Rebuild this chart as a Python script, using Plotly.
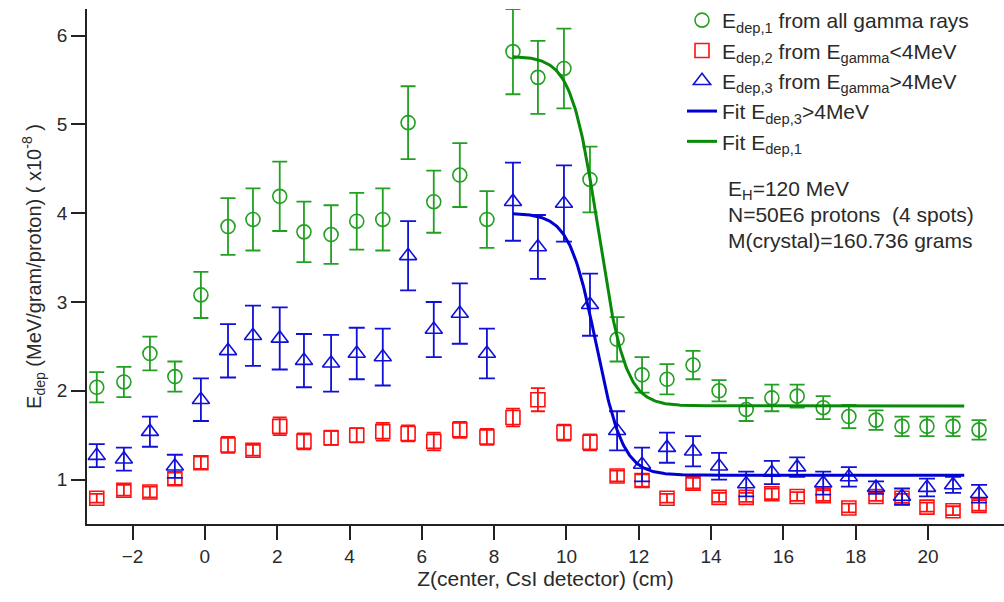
import numpy as np
import plotly.graph_objects as go

# positions (cm)
z = [-2.99, -2.24, -1.52, -0.83, -0.11, 0.64, 1.33, 2.07, 2.74, 3.49, 4.20, 4.92,
     5.62, 6.33, 7.05, 7.80, 8.52, 9.21, 9.93, 10.65, 11.40, 12.09, 12.78, 13.50,
     14.22, 14.97, 15.68, 16.38, 17.10, 17.81, 18.56, 19.28, 19.97, 20.69, 21.41]

e1 = [2.04, 2.10, 2.42, 2.16, 3.08, 3.85, 3.93, 4.19, 3.79, 3.76, 3.91, 3.93,
      5.02, 4.13, 4.43, 3.93, 5.82, 5.53, 5.63, 4.38, 2.58, 2.18, 2.13, 2.29,
      2.00, 1.79, 1.92, 1.94, 1.81, 1.71, 1.67, 1.60, 1.60, 1.60, 1.56]
e1_err = [0.17, 0.17, 0.19, 0.17, 0.26, 0.32, 0.35, 0.39, 0.34, 0.33, 0.32, 0.35,
          0.41, 0.35, 0.36, 0.32, 0.48, 0.41, 0.45, 0.37, 0.25, 0.20, 0.17, 0.16,
          0.12, 0.13, 0.15, 0.13, 0.13, 0.13, 0.11, 0.11, 0.11, 0.11, 0.11]

e2 = [0.79, 0.88, 0.86, 1.01, 1.19, 1.39, 1.33, 1.60, 1.43, 1.47, 1.50, 1.54,
      1.52, 1.43, 1.56, 1.48, 1.70, 1.90, 1.53, 1.42, 1.04, 0.99, 0.79, 0.96,
      0.80, 0.80, 0.84, 0.81, 0.82, 0.68, 0.81, 0.79, 0.69, 0.65, 0.71]
e2_err = [0.05, 0.06, 0.06, 0.07, 0.07, 0.09, 0.06, 0.10, 0.09, 0.08, 0.08, 0.10,
          0.09, 0.10, 0.09, 0.09, 0.10, 0.13, 0.09, 0.09, 0.06, 0.07, 0.05, 0.06,
          0.05, 0.05, 0.06, 0.05, 0.06, 0.05, 0.05, 0.05, 0.05, 0.05, 0.06]

e3 = [1.27, 1.23, 1.54, 1.15, 1.90, 2.45, 2.62, 2.59, 2.34, 2.31, 2.42, 2.38,
      3.52, 2.69, 2.87, 2.42, 4.13, 3.62, 4.11, 2.97, 1.55, 1.17, 1.36, 1.32,
      1.15, 0.95, 1.08, 1.14, 0.96, 1.03, 0.91, 0.81, 0.91, 0.94, 0.84]
e3_err = [0.13, 0.13, 0.17, 0.13, 0.24, 0.30, 0.34, 0.35, 0.30, 0.32, 0.29, 0.32,
          0.39, 0.31, 0.34, 0.28, 0.44, 0.36, 0.43, 0.35, 0.22, 0.19, 0.17, 0.17,
          0.15, 0.14, 0.13, 0.11, 0.13, 0.11, 0.07, 0.09, 0.10, 0.09, 0.10]

# Fermi-type fit parameters: base + amp / (1 + exp((z - z0)/w))
fit1 = dict(base=1.83, amp=3.94, z0=10.88, w=0.37)
fit3 = dict(base=1.05, amp=2.95, z0=10.82, w=0.37)
fit_range = [8.52, 21.0]

x_ticks = [-2, 0, 2, 4, 6, 8, 10, 12, 14, 16, 18, 20]
y_ticks = [1, 2, 3, 4, 5, 6]

GREEN = "#22a022"
RED = "#ff1010"
BLUE = "#1010d8"
FIT_GREEN = "#0a8a0a"
FIT_BLUE = "#0000d0"
FONT = "Liberation Sans, Arial, sans-serif"
TXT = "#2a2a2a"

H_AREA = 524.0  # pixel height of the area inside the margins


def fermi(x, p):
    return p["base"] + p["amp"] / (1.0 + np.exp((x - p["z0"]) / p["w"]))


zf = np.linspace(fit_range[0], fit_range[1], 400)

fig = go.Figure()

fig.add_trace(go.Scatter(
    x=z, y=e1, mode="markers", name="E<sub>dep,1</sub> from all gamma rays",
    legendgroup="a",
    marker=dict(symbol="circle-open", size=14, color=GREEN, line=dict(width=1.6, color=GREEN)),
    error_y=dict(type="data", array=e1_err, color=GREEN, thickness=1.8, width=7.5)))
fig.add_trace(go.Scatter(
    x=z, y=e2, mode="markers", name="E<sub>dep,2</sub> from E<sub>gamma</sub><4MeV",
    legendgroup="b",
    marker=dict(symbol="square-open", size=14, color=RED, line=dict(width=1.6, color=RED)),
    error_y=dict(type="data", array=e2_err, color=RED, thickness=1.8, width=7)))
fig.add_trace(go.Scatter(
    x=z, y=e3, mode="markers", name="E<sub>dep,3</sub> from E<sub>gamma</sub>>4MeV",
    legendgroup="c",
    marker=dict(symbol="triangle-up-open", size=15, color=BLUE, line=dict(width=1.6, color=BLUE)),
    error_y=dict(type="data", array=e3_err, color=BLUE, thickness=1.8, width=8)))
fig.add_trace(go.Scatter(
    x=zf, y=fermi(zf, fit3), mode="lines", name="Fit E<sub>dep,3</sub>>4MeV",
    legendgroup="d", line=dict(color=FIT_BLUE, width=3)))
fig.add_trace(go.Scatter(
    x=zf, y=fermi(zf, fit1), mode="lines", name="Fit E<sub>dep,1</sub>",
    legendgroup="e", line=dict(color=FIT_GREEN, width=3)))

fig.update_layout(
    width=1004, height=602,
    margin=dict(l=87, r=0, t=0, b=78),
    paper_bgcolor="white", plot_bgcolor="white",
    font=dict(family=FONT, size=20, color=TXT),
    showlegend=True,
    legend=dict(x=(682 - 87) / 917, y=1.0, xanchor="left", yanchor="top",
                bgcolor="rgba(0,0,0,0)", font=dict(size=21, color=TXT),
                tracegroupgap=0, itemwidth=30),
    xaxis=dict(range=[-3.26, 22.1], tickmode="array", tickvals=x_ticks,
               showgrid=False, zeroline=False, showline=True, linecolor="#222",
               linewidth=1.5, ticks="outside", ticklen=14, tickwidth=1.5,
               tickcolor="#222", tickfont=dict(size=19, color=TXT),
               title=dict(text="Z(center, CsI detector) (cm)", font=dict(size=21, color=TXT),
                          standoff=6)),
    yaxis=dict(range=[0.5, 6.3], domain=[0, 1 - 9 / H_AREA], tickmode="array", tickvals=y_ticks,
               showgrid=False, zeroline=False, showline=True, linecolor="#222",
               linewidth=1.5, ticks="outside", ticklen=14, tickwidth=1.5,
               tickcolor="#222", tickfont=dict(size=19, color=TXT),
               title=dict(text="E<sub>dep</sub> (MeV/gram/proton) ( x10<sup>-8</sup> )",
                          font=dict(size=20, color=TXT), standoff=10)),
)

notes = ["E<sub>H</sub>=120 MeV", "N=50E6 protons  (4 spots)", "M(crystal)=160.736 grams"]
note_y = [190, 215, 241]
for t, yy in zip(notes, note_y):
    fig.add_annotation(text=t, xref="paper", yref="paper",
                       x=(726 - 87) / (1004 - 87), y=1 - yy / H_AREA,
                       xanchor="left", yanchor="middle", showarrow=False,
                       font=dict(size=21, color=TXT))

fig.write_html("out.html")
